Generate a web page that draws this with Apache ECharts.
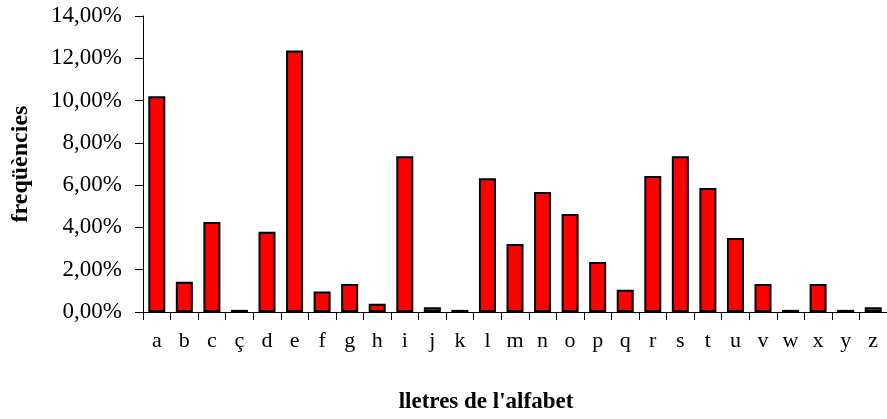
<!DOCTYPE html>
<html>
<head>
<meta charset="utf-8">
<script src="https://cdn.jsdelivr.net/npm/echarts@6/dist/echarts.min.js"></script>
<style>
html,body{margin:0;padding:0;background:#fff;}
#chart{width:887px;height:419px;}
</style>
</head>
<body>
<div id="chart"></div>
<script>
const letters = ['a','b','c','ç','d','e','f','g','h','i','j','k','l','m','n','o','p','q','r','s','t','u','v','w','x','y','z'];
const frequencies = [10.2,1.43,4.26,0.1,3.79,12.37,0.97,1.32,0.39,7.37,0.22,0.1,6.33,3.22,5.67,4.64,2.37,1.05,6.43,7.37,5.86,3.5,1.33,0.1,1.33,0.1,0.22];
const yTicks = [0,2,4,6,8,10,12,14];
const xTitle = "lletres de l'alfabet";
const yTitle = 'freqüències';

const chart = echarts.init(document.getElementById('chart'), null, {renderer:'canvas'});
const serif = '"Liberation Serif", "Times New Roman", serif';
chart.setOption({
  animation:false,
  backgroundColor:'#fff',
  grid:{left:143, right:-8, top:16, bottom:106, containLabel:false},
  xAxis:{
    type:'category',
    data:letters,
    name:xTitle,
    nameLocation:'middle',
    nameGap:79,
    nameTextStyle:{fontFamily:serif, fontWeight:'bold', fontSize:23, color:'#000', padding:[0,58,0,0]},
    axisLine:{lineStyle:{color:'#000', width:1}},
    axisTick:{show:true, length:8, alignWithLabel:false, lineStyle:{color:'#000'}},
    axisLabel:{fontFamily:serif, fontSize:22, color:'#000', margin:18, interval:0}
  },
  yAxis:{
    type:'value',
    min:yTicks[0],
    max:yTicks[yTicks.length-1],
    interval:2,
    name:yTitle,
    nameLocation:'middle',
    nameGap:110,
    nameRotate:90,
    nameTextStyle:{fontFamily:serif, fontWeight:'bold', fontSize:24, color:'#000'},
    axisLine:{show:true, lineStyle:{color:'#000', width:1}},
    axisTick:{show:true, length:8, lineStyle:{color:'#000'}},
    splitLine:{show:false},
    axisLabel:{fontFamily:serif, fontSize:23, color:'#000', margin:21,
      formatter:v=>v.toFixed(2).replace('.',',')+'%'}
  },
  series:[{
    type:'bar',
    data:frequencies,
    barWidth:17,
    itemStyle:{color:'#ff0000', borderColor:'#000', borderWidth:2}
  }]
});
</script>
</body>
</html>
